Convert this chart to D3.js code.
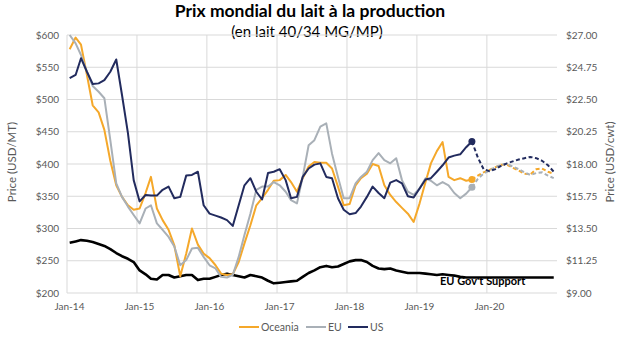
<!DOCTYPE html>
<html>
<head>
<meta charset="utf-8">
<script src="https://cdn.jsdelivr.net/npm/d3@7"></script>
<style>
  html, body { margin: 0; padding: 0; background: #fff; }
  svg { display: block; }
</style>
</head>
<body>
<svg id="chart" width="620" height="340"></svg>
<script>
// Monthly values, Jan-14 onwards (USD/MT)
const oceania = [578,596,585,538,491,480,453,405,367,349,336,329, 331,355,380,331,313,298,274,226,261,300,275,261,
  254,243,230,228,229,248,277,305,336,347,360,374, 375,383,372,357,378,396,403,402,402,393,365,336,
  338,367,378,385,400,397,367,352,341,332,323,310, 339,372,401,420,434,380,375,378,374,376];
const eu = [600,587,569,543,521,512,502,437,370,349,334,321, 308,331,336,308,298,287,272,243,251,269,270,256,
  243,238,225,224,228,256,290,323,360,365,365,372, 367,357,344,339,380,429,437,458,463,416,380,347,
  347,370,380,388,406,417,406,401,409,375,357,352, 362,378,374,367,372,367,355,347,354,364];
const us = [533,538,564,543,524,525,530,543,562,507,448,375, 342,352,351,351,360,365,347,349,382,383,388,336,
  323,320,317,313,304,336,367,378,357,345,386,388, 392,375,347,349,380,393,399,401,380,378,347,329,
  322,324,334,349,365,355,347,371,375,370,350,348, 362,376,378,388,398,410,413,415,426,435];

// Forecast (dashed), starting at the last actual month
const oceaniaFc = [376,382,387,391,395,399,399,394,390,385,384,392,393,388,385];
const euFc = [364,377,385,390,395,399,400,396,392,387,383,386,387,382,378];
const usFc = [435,410,392,389,392,397,401,404,407,409,411,409,405,398,388];

const euSupport = [278,280,282,281,279,276,273,268,262,257,253,248, 235,229,222,221,228,228,224,226,228,228,220,222,
  222,225,228,230,228,226,224,228,226,224,219,215, 216,217,218,219,225,231,235,240,242,240,241,245,
  249,251,251,248,242,238,237,238,235,233,231,231, 231,230,229,228,229,228,227,225,224,224,224,224,
  224,224,224,224,224,224,224,224,224,224,224,224];

const yTicksLeft = [200,250,300,350,400,450,500,550,600];
const yTicksRight = [9,11.25,13.5,15.75,18,20.25,22.5,24.75,27];
const xYears = [2014,2015,2016,2017,2018,2019,2020];

const series = [
  { name: "Oceania", color: "#f5a82a", actual: oceania, fc: oceaniaFc },
  { name: "EU", color: "#a9b0b7", actual: eu, fc: euFc },
  { name: "US", color: "#222b5e", actual: us, fc: usFc }
];

const W = 620, H = 340;
const FONT = "Lato, 'Open Sans', sans-serif";
const months = d3.timeMonth.range(new Date(2014, 0, 1), new Date(2021, 0, 1))
  .map(d => d3.timeDay.offset(d, 14));

const x = d3.scaleTime().domain([new Date(2014, 0, 1), new Date(2021, 0, 1)]).range([67, 557]);
const y = d3.scaleLinear().domain([200, 600]).range([293, 35]);
const yR = d3.scaleLinear().domain([9, 27]).range([293, 35]);

const svg = d3.select("#chart");

// Title
svg.append("text")
  .attr("x", 310).attr("y", 17)
  .attr("text-anchor", "middle")
  .style("font-family", FONT).style("font-size", "17.5px").style("font-weight", "700")
  .style("fill", "#000")
  .text("Prix mondial du lait à la production");

svg.append("text")
  .attr("x", 307).attr("y", 37)
  .attr("text-anchor", "middle")
  .style("font-family", FONT).style("font-size", "15px")
  .style("fill", "#000")
  .text("(en lait 40/34 MG/MP)");

// Grid
svg.append("g").selectAll("line")
  .data(yTicksLeft).join("line")
  .attr("x1", 67).attr("x2", 557)
  .attr("y1", d => y(d)).attr("y2", d => y(d))
  .attr("stroke", "#d9d9d9").attr("stroke-width", 1);

svg.append("g").selectAll("line")
  .data(xYears).join("line")
  .attr("x1", d => x(new Date(d, 0, 1))).attr("x2", d => x(new Date(d, 0, 1)))
  .attr("y1", 35).attr("y2", 293)
  .attr("stroke", "#d9d9d9").attr("stroke-width", 1);

// Left axis
svg.append("g")
  .attr("transform", "translate(67,0)")
  .call(d3.axisLeft(y).tickValues(yTicksLeft).tickSize(0).tickPadding(8).tickFormat(d => "$" + d))
  .call(ax => {
    ax.select(".domain").remove();
    ax.selectAll(".tick text").style("fill", "#595959").style("font-size", "10px").style("font-family", FONT);
  });

// Right axis
svg.append("g")
  .attr("transform", "translate(557,0)")
  .call(d3.axisRight(yR).tickValues(yTicksRight).tickSize(0).tickPadding(9).tickFormat(d => "$" + d3.format(".2f")(d)))
  .call(ax => {
    ax.select(".domain").remove();
    ax.selectAll(".tick text").style("fill", "#595959").style("font-size", "10px").style("font-family", FONT);
  });

// X axis labels
svg.append("g")
  .attr("transform", "translate(0,293)")
  .call(d3.axisBottom(x).tickValues(xYears.map(yr => new Date(yr, 0, 1))).tickSize(0).tickPadding(10)
    .tickFormat(d3.timeFormat("Jan-%y")))
  .call(ax => {
    ax.select(".domain").remove();
    ax.selectAll(".tick text").attr("dx", 2).style("fill", "#595959").style("font-size", "10px").style("font-family", FONT);
  });

// Axis titles
svg.append("text")
  .attr("transform", "translate(16,162) rotate(-90)")
  .attr("text-anchor", "middle")
  .style("fill", "#595959").style("font-size", "11.5px").style("font-family", FONT)
  .text("Price (USD/MT)");

svg.append("text")
  .attr("transform", "translate(614,162) rotate(-90)")
  .attr("text-anchor", "middle")
  .style("fill", "#595959").style("font-size", "11.5px").style("font-family", FONT)
  .text("Price (USD/cwt)");

const line = d3.line().x(d => x(d.date)).y(d => y(d.v));

// EU Gov't support
svg.append("path")
  .datum(euSupport.map((v, i) => ({ date: months[i], v })))
  .attr("d", line)
  .attr("fill", "none").attr("stroke", "#000").attr("stroke-width", 2.6)
  .attr("stroke-linejoin", "round");

svg.append("text")
  .attr("x", 440).attr("y", 285)
  .style("font-family", FONT).style("font-size", "11px").style("font-weight", "700")
  .style("fill", "#000")
  .text("EU Gov't Support");

// Price lines
series.forEach(s => {
  const last = s.actual.length - 1;
  svg.append("path")
    .datum(s.actual.map((v, i) => ({ date: months[i], v })))
    .attr("d", line)
    .attr("fill", "none").attr("stroke", s.color).attr("stroke-width", 2)
    .attr("stroke-linejoin", "round");

  svg.append("path")
    .datum(s.fc.map((v, i) => ({ date: months[last + i], v })))
    .attr("d", line)
    .attr("fill", "none").attr("stroke", s.color).attr("stroke-width", 2)
    .attr("stroke-dasharray", "4,2.5");

  svg.append("circle")
    .attr("cx", x(months[last])).attr("cy", y(s.actual[last]))
    .attr("r", 3.5).attr("fill", s.color);
});

// Legend
const legendX = [239, 306, 348];
series.forEach((s, i) => {
  const lx = legendX[i];
  svg.append("line")
    .attr("x1", lx).attr("x2", lx + 20)
    .attr("y1", 327).attr("y2", 327)
    .attr("stroke", s.color).attr("stroke-width", 2);
  svg.append("text")
    .attr("x", lx + 22).attr("y", 331)
    .style("fill", "#595959").style("font-size", "10.5px").style("font-family", FONT)
    .text(s.name);
});
</script>
</body>
</html>
